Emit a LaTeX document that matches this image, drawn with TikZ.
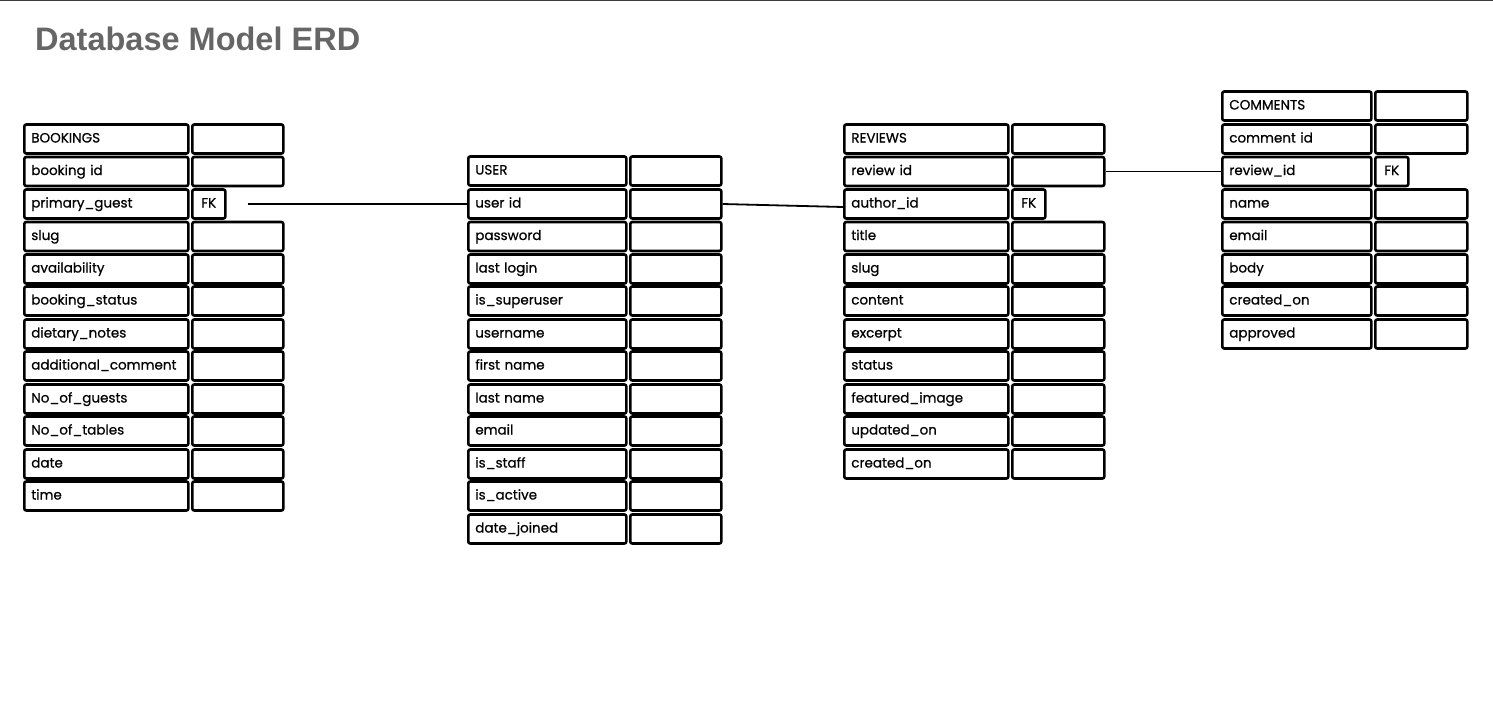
\documentclass[tikz,border=0pt]{standalone}
\usepackage{fontspec}
\setmainfont{Liberation Sans}
\newfontfamily\cellfont{Poppins}[FakeBold=0.6]
\definecolor{titlegray}{HTML}{666666}
\definecolor{rulegray}{HTML}{3A3A3A}
\tikzset{
  cell/.style={draw=black, line width=2.6pt, rounded corners=2pt, fill=white,
    minimum height=29pt, text height=10pt, text depth=3pt, inner xsep=7pt,
    anchor=west, font=\cellfont\fontsize{13.5}{16}\selectfont},
  fld/.style={cell, text width=#1, align=left},
  val/.style={cell, minimum width=#1},
  fkey/.style={cell, minimum width=33pt, inner xsep=3pt},
  link/.style={draw=black, line width=1.8pt}
}
\begin{document}
\begin{tikzpicture}[x=1pt,y=-1pt]
\useasboundingbox (0,0) rectangle (1493,726);
\draw[rulegray, line width=2pt] (0,0) -- (1493,0);
\node[anchor=west, text=titlegray, font=\bfseries\fontsize{32.5}{38}\selectfont, inner sep=0pt] (title) at (35,39) {Database Model ERD};
% bookings
\node[fld=150] (b0) at (23,139) {BOOKINGS};
\node[val=91] (b0v) at (191,139) {};
\node[fld=150] (b1) at (23,171.5) {booking id};
\node[val=91] (b1v) at (191,171.5) {};
\node[fld=150] (b2) at (23,204) {primary\_guest};
\node[fkey] (b2v) at (191,204) {FK};
\node[fld=150] (b3) at (23,236.5) {slug};
\node[val=91] (b3v) at (191,236.5) {};
\node[fld=150] (b4) at (23,269) {availability};
\node[val=91] (b4v) at (191,269) {};
\node[fld=150] (b5) at (23,301) {booking\_status};
\node[val=91] (b5v) at (191,301) {};
\node[fld=150] (b6) at (23,334) {dietary\_notes};
\node[val=91] (b6v) at (191,334) {};
\node[fld=150] (b7) at (23,366) {additional\_comment};
\node[val=91] (b7v) at (191,366) {};
\node[fld=150] (b8) at (23,399) {No\_of\_guests};
\node[val=91] (b8v) at (191,399) {};
\node[fld=150] (b9) at (23,431) {No\_of\_tables};
\node[val=91] (b9v) at (191,431) {};
\node[fld=150] (b10) at (23,464) {date};
\node[val=91] (b10v) at (191,464) {};
\node[fld=150] (b11) at (23,496) {time};
\node[val=91] (b11v) at (191,496) {};
% user
\node[fld=144] (u0) at (467,171) {USER};
\node[val=91] (u0v) at (629,171) {};
\node[fld=144] (u1) at (467,204) {user id};
\node[val=91] (u1v) at (629,204) {};
\node[fld=144] (u2) at (467,236.5) {password};
\node[val=91] (u2v) at (629,236.5) {};
\node[fld=144] (u3) at (467,269) {last login};
\node[val=91] (u3v) at (629,269) {};
\node[fld=144] (u4) at (467,301) {is\_superuser};
\node[val=91] (u4v) at (629,301) {};
\node[fld=144] (u5) at (467,334) {username};
\node[val=91] (u5v) at (629,334) {};
\node[fld=144] (u6) at (467,366) {first name};
\node[val=91] (u6v) at (629,366) {};
\node[fld=144] (u7) at (467,399) {last name};
\node[val=91] (u7v) at (629,399) {};
\node[fld=144] (u8) at (467,431) {email};
\node[val=91] (u8v) at (629,431) {};
\node[fld=144] (u9) at (467,464) {is\_staff};
\node[val=91] (u9v) at (629,464) {};
\node[fld=144] (u10) at (467,496) {is\_active};
\node[val=91] (u10v) at (629,496) {};
\node[fld=144] (u11) at (467,529) {date\_joined};
\node[val=91] (u11v) at (629,529) {};
% reviews
\node[fld=150] (r0) at (843,139) {REVIEWS};
\node[val=92] (r0v) at (1011,139) {};
\node[fld=150] (r1) at (843,171.5) {review id};
\node[val=92] (r1v) at (1011,171.5) {};
\node[fld=150] (r2) at (843,204) {author\_id};
\node[fkey] (r2v) at (1011,204) {FK};
\node[fld=150] (r3) at (843,236.5) {title};
\node[val=92] (r3v) at (1011,236.5) {};
\node[fld=150] (r4) at (843,269) {slug};
\node[val=92] (r4v) at (1011,269) {};
\node[fld=150] (r5) at (843,301) {content};
\node[val=92] (r5v) at (1011,301) {};
\node[fld=150] (r6) at (843,334) {excerpt};
\node[val=92] (r6v) at (1011,334) {};
\node[fld=150] (r7) at (843,366) {status};
\node[val=92] (r7v) at (1011,366) {};
\node[fld=150] (r8) at (843,399) {featured\_image};
\node[val=92] (r8v) at (1011,399) {};
\node[fld=150] (r9) at (843,431) {updated\_on};
\node[val=92] (r9v) at (1011,431) {};
\node[fld=150] (r10) at (843,464) {created\_on};
\node[val=92] (r10v) at (1011,464) {};
% comments
\node[fld=135] (c0) at (1221,106) {COMMENTS};
\node[val=92] (c0v) at (1374,106) {};
\node[fld=135] (c1) at (1221,139) {comment id};
\node[val=92] (c1v) at (1374,139) {};
\node[fld=135] (c2) at (1221,171.5) {review\_id};
\node[fkey] (c2v) at (1374,171.5) {FK};
\node[fld=135] (c3) at (1221,204) {name};
\node[val=92] (c3v) at (1374,204) {};
\node[fld=135] (c4) at (1221,236.5) {email};
\node[val=92] (c4v) at (1374,236.5) {};
\node[fld=135] (c5) at (1221,269) {body};
\node[val=92] (c5v) at (1374,269) {};
\node[fld=135] (c6) at (1221,301) {created\_on};
\node[val=92] (c6v) at (1374,301) {};
\node[fld=135] (c7) at (1221,334) {approved};
\node[val=92] (c7v) at (1374,334) {};
% links
\draw[link] ([xshift=21pt]b2v.east) -- (u1.west);
\draw[link] (u1v.east) -- ([yshift=-3pt]r2.west);
\draw[link] (r1v.east) -- (c2.west);
\end{tikzpicture}
\end{document}
